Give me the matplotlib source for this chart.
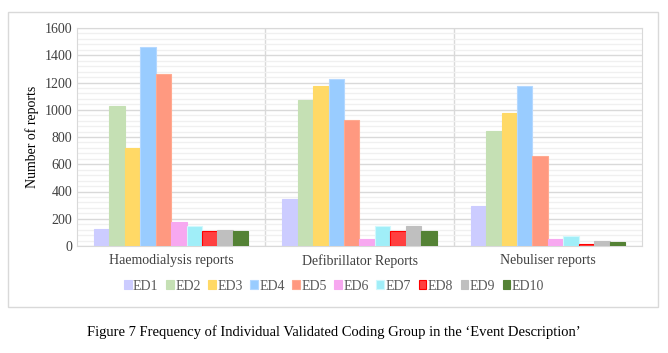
import numpy as np
import matplotlib.pyplot as plt
from matplotlib.patches import Rectangle
from matplotlib.ticker import MultipleLocator

plt.rcParams['font.family'] = ['Liberation Serif', 'DejaVu Serif']

groups = ['Haemodialysis reports', 'Defibrillator Reports', 'Nebuliser reports']
series = ['ED1', 'ED2', 'ED3', 'ED4', 'ED5', 'ED6', 'ED7', 'ED8', 'ED9', 'ED10']
ed1 = [125, 345, 294]
ed2 = [1029, 1068, 845]
ed3 = [720, 1176, 978]
ed4 = [1460, 1225, 1174]
ed5 = [1264, 926, 662]
ed6 = [176, 51, 51]
ed7 = [145, 145, 71]
ed8 = [110, 110, 15]
ed9 = [118, 147, 37]
ed10 = [113, 113, 29]
values = [ed1, ed2, ed3, ed4, ed5, ed6, ed7, ed8, ed9, ed10]

colors = ['#CCCCFF', '#C5E0B4', '#FFD966', '#99CCFF', '#FF9980',
          '#F7A8F0', '#A0EEF8', '#FF4040', '#BFBFBF', '#548235']
edges = ['#CCCCFF', '#C5E0B4', '#FFD966', '#B4D8FF', '#FFAA90',
         '#F7A8F0', '#D0F8FC', '#FF0000', '#BFBFBF', '#548235']

fig = plt.figure(figsize=(6.68, 3.53), dpi=100)
W, H = 668, 353

# outer chart frame
fig.patches.append(Rectangle((8 / W, 1 - 307 / H), 650 / W, 295 / H,
                             transform=fig.transFigure, fill=False,
                             edgecolor='#D9D9D9', linewidth=1))

ax = fig.add_axes([77 / W, 1 - 246 / H, 565 / W, 218 / H])

n = len(series)
bw = 0.82 / n
x = np.arange(len(groups))
for i, (name, vals) in enumerate(zip(series, values)):
    ax.bar(x - 0.41 + bw * (i + 0.5), vals, width=bw, color=colors[i],
           edgecolor=edges[i], linewidth=0.8, label=name, zorder=3)

ax.set_xlim(-0.5, 2.5)
ax.set_ylim(0, 1600)
ax.yaxis.set_major_locator(MultipleLocator(200))
ax.yaxis.set_minor_locator(MultipleLocator(40))
ax.grid(axis='y', which='major', color='#D9D9D9', linewidth=1, zorder=0)
ax.grid(axis='y', which='minor', color='#F0F0F0', linewidth=1, zorder=0)
for sep in [0.5, 1.5]:
    ax.axvline(sep, color='#D9D9D9', linewidth=1, zorder=1)
for s in ax.spines.values():
    s.set_color('#D9D9D9')
ax.set_xticks(x)
ax.set_xticklabels(groups)
ax.tick_params(axis='both', which='both', length=0, labelsize=10, colors='#404040')
ax.tick_params(axis='x', pad=6)
ax.set_ylabel('Number of reports', fontsize=10, color='#000000')

leg = fig.legend(loc='center', bbox_to_anchor=(0.5, 1 - 286 / H), ncol=10,
                 frameon=False, fontsize=10, handlelength=0.55, handleheight=0.55,
                 handletextpad=0.1, columnspacing=0.55, borderpad=0)
for t in leg.get_texts():
    t.set_color('#595959')

fig.text(0.5, 1 - 332 / H,
         'Figure 7 Frequency of Individual Validated Coding Group in the \u2018Event Description\u2019',
         ha='center', va='center', fontsize=10.5)

fig.savefig('out.png', dpi=100)
